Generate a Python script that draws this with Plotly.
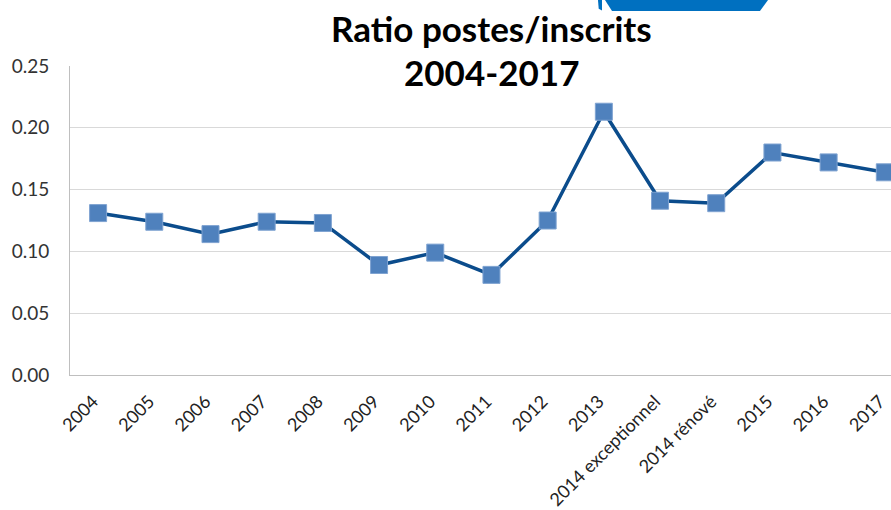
import plotly.graph_objects as go

categories = ["2004", "2005", "2006", "2007", "2008", "2009", "2010", "2011",
              "2012", "2013", "2014 exceptionnel", "2014 rénové", "2015", "2016", "2017"]
ratio = [0.131, 0.124, 0.114, 0.124, 0.123, 0.089, 0.099, 0.081,
         0.125, 0.213, 0.141, 0.139, 0.180, 0.172, 0.164]
y_ticks = [0.00, 0.05, 0.10, 0.15, 0.20, 0.25]
y_tick_text = ["0.00", "0.05", "0.10", "0.15", "0.20", "0.25"]
title_line1 = "Ratio postes/inscrits"
title_line2 = "2004-2017"

FONT = "Lato, 'Open Sans', sans-serif"

fig = go.Figure()
fig.add_trace(go.Scatter(
    x=categories, y=ratio, mode="lines+markers",
    line=dict(color="#0B4C8C", width=3.5),
    marker=dict(symbol="square", size=17, color="#4F81BD",
                line=dict(color="#7FA3D1", width=1)),
    showlegend=False, hoverinfo="x+y", cliponaxis=False,
))

fig.update_layout(
    width=891, height=510,
    margin=dict(l=70, r=0, t=66, b=135, pad=0, autoexpand=False),
    paper_bgcolor="white", plot_bgcolor="white",
    font=dict(family=FONT, size=18, color="#333333"),
    xaxis=dict(
        type="category", range=[-0.5, 14.11], automargin=False,
        showgrid=False, showline=True, linecolor="#BFBFBF", linewidth=1,
        tickangle=-45, ticks="", ticklabelstandoff=8, ticklabelshift=-5,
        tickfont=dict(family=FONT, size=18, color="#222222"),
        fixedrange=True,
    ),
    yaxis=dict(
        range=[0, 0.25], tickvals=y_ticks, ticktext=y_tick_text, automargin=False,
        showgrid=True, gridcolor="#D9D9D9", gridwidth=1,
        showline=True, linecolor="#BFBFBF", linewidth=1,
        zeroline=False, ticks="", ticklabelstandoff=16,
        tickfont=dict(family=FONT, size=19, color="#333333"),
        fixedrange=True,
    ),
    annotations=[
        dict(text="<b>" + title_line1 + "</b>", x=0.514, y=1.123,
             xref="paper", yref="paper", xanchor="center", yanchor="middle",
             showarrow=False, font=dict(family=FONT, size=35, color="#000000")),
        dict(text="<b>" + title_line2 + "</b>", x=0.514, y=0.982,
             xref="paper", yref="paper", xanchor="center", yanchor="middle",
             showarrow=False, bgcolor="white", borderpad=2,
             font=dict(family=FONT, size=35, color="#000000")),
    ],
    shapes=[
        dict(type="path", xref="paper", yref="paper",
             path="M 0.6516 1.2136 L 0.8502 1.2136 L 0.8404 1.178 L 0.6602 1.178 Z",
             fillcolor="#0070C0", line=dict(width=0), layer="above"),
        dict(type="path", xref="paper", yref="paper",
             path="M 0.6431 1.2136 L 0.6480 1.2136 L 0.6480 1.180 L 0.6440 1.185 Z",
             fillcolor="#0070C0", line=dict(width=0), layer="above"),
    ],
)

fig.write_html("out.html", config={"displayModeBar": False},
               post_script="document.body.style.margin='0';")
